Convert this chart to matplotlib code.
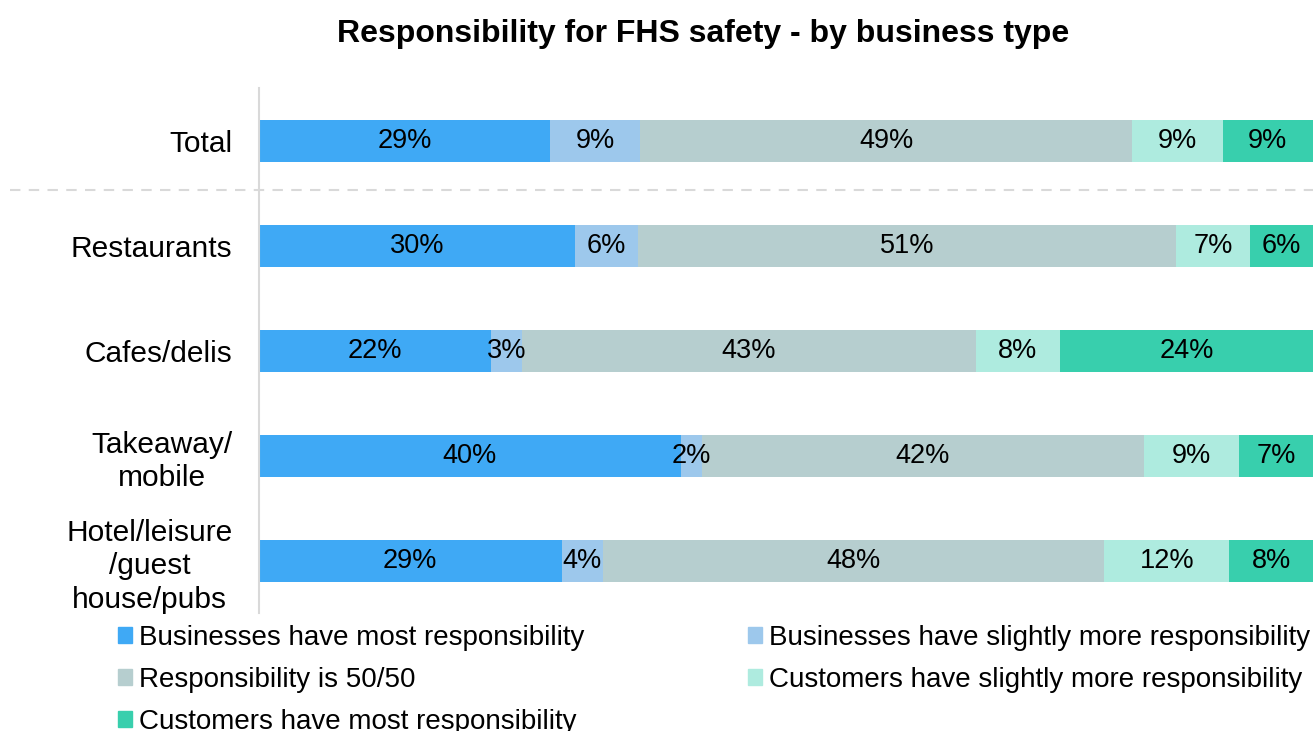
import matplotlib.pyplot as plt
from matplotlib.patches import Patch
import numpy as np

plt.rcParams['font.family'] = ['Liberation Sans', 'DejaVu Sans']

# survey data (rounded %), top row first
groups = ['Total', 'Restaurants', 'Cafes/delis', 'Takeaway/\nmobile',
          'Hotel/leisure\n/guest\nhouse/pubs']
series = ['Businesses have most responsibility',
          'Businesses have slightly more responsibility',
          'Responsibility is 50/50',
          'Customers have slightly more responsibility',
          'Customers have most responsibility']
biz_most = [29, 30, 22, 40, 29]
biz_slight = [9, 6, 3, 2, 4]
even = [49, 51, 43, 42, 48]
cust_slight = [9, 7, 8, 9, 12]
cust_most = [9, 6, 24, 7, 8]
colors = ['#3FA9F5', '#9DC8EC', '#B6CECF', '#AEEBDF', '#38CFAD']

vals = np.array([biz_most, biz_slight, even, cust_slight, cust_most], dtype=float)
# 100% stacked: each row fills the full width
share = vals / vals.sum(axis=0) * 100

fig = plt.figure(figsize=(13.16, 7.31), dpi=100)
ax = fig.add_axes([0.1968, 0.1614, 0.8009, 0.7182])

y = np.arange(len(groups))
left = np.zeros(len(groups))
for i in range(len(series)):
    ax.barh(y, share[i], left=left, height=0.4, color=colors[i])
    for j in range(len(groups)):
        ax.text(left[j] + share[i][j] / 2, y[j], f'{int(vals[i][j])}%',
                ha='center', va='center', fontsize=19.5, color='black')
    left += share[i]

ax.set_xlim(0, 100)
ax.set_ylim(len(groups) - 0.5, -0.5)
ax.set_yticks(y)
ax.set_yticklabels(groups, fontsize=21.5, multialignment='center', linespacing=1.25)
ax.tick_params(axis='y', length=0, pad=19)
ax.set_xticks([])
for s in ['top', 'right', 'bottom']:
    ax.spines[s].set_visible(False)
ax.spines['left'].set_color('#D9D9D9')
ax.spines['left'].set_linewidth(1.5)

# separator under the Total row
x0 = ax.transAxes.inverted().transform(fig.transFigure.transform((10 / 1316, 0)))[0]
ax.plot([x0, 1.0], [0.47, 0.47], transform=ax.get_yaxis_transform(),
        color='#D9D9D9', lw=1.5, ls=(0, (5, 4)), clip_on=False)

fig.text(0.5346, 0.953, 'Responsibility for FHS safety - by business type',
         ha='center', va='center', fontsize=23, fontweight='bold')

handles = [Patch(color=c, label=s) for c, s in zip(colors, series)]
order = [0, 2, 4, 1, 3]
fig.legend([handles[k] for k in order], [series[k] for k in order],
           loc='upper left', bbox_to_anchor=(0.0896, 0.145), ncol=2,
           frameon=False, fontsize=20, handlelength=0.5, handleheight=0.5,
           handletextpad=0.25, columnspacing=5.9, labelspacing=0.58,
           borderaxespad=0, borderpad=0)

fig.savefig('out.png', dpi=100)
